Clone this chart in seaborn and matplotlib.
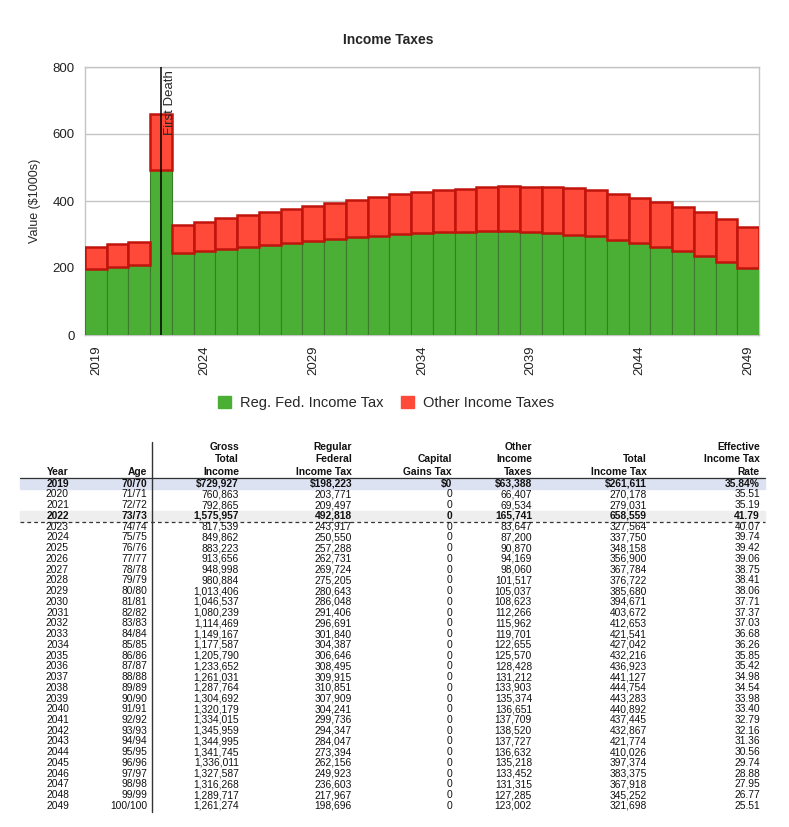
import numpy as np
import pandas as pd
import seaborn as sns
import matplotlib.pyplot as plt
from matplotlib.patches import Patch

years = [2019, 2020, 2021, 2022, 2023, 2024, 2025, 2026, 2027, 2028, 2029,
         2030, 2031, 2032, 2033, 2034, 2035, 2036, 2037, 2038, 2039, 2040,
         2041, 2042, 2043, 2044, 2045, 2046, 2047, 2048, 2049]
ages = ['70/70', '71/71', '72/72', '73/73', '74/74', '75/75', '76/76', '77/77',
        '78/78', '79/79', '80/80', '81/81', '82/82', '83/83', '84/84', '85/85',
        '86/86', '87/87', '88/88', '89/89', '90/90', '91/91', '92/92', '93/93',
        '94/94', '95/95', '96/96', '97/97', '98/98', '99/99', '100/100']
gross_income = [729927, 760863, 792865, 1575957, 817539, 849862, 883223, 913656,
                948998, 980884, 1013406, 1046537, 1080239, 1114469, 1149167,
                1177587, 1205790, 1233652, 1261031, 1287764, 1304692, 1320179,
                1334015, 1345959, 1344995, 1341745, 1336011, 1327587, 1316268,
                1289717, 1261274]
reg_fed_tax = [198223, 203771, 209497, 492818, 243917, 250550, 257288, 262731,
               269724, 275205, 280643, 286048, 291406, 296691, 301840, 304387,
               306646, 308495, 309915, 310851, 307909, 304241, 299736, 294347,
               284047, 273394, 262156, 249923, 236603, 217967, 198696]
cap_gains_tax = [0] * 31
other_taxes = [63388, 66407, 69534, 165741, 83647, 87200, 90870, 94169, 98060,
               101517, 105037, 108623, 112266, 115962, 119701, 122655, 125570,
               128428, 131212, 133903, 135374, 136651, 137709, 138520, 137727,
               136632, 135218, 133452, 131315, 127285, 123002]
total_tax = [261611, 270178, 279031, 658559, 327564, 337750, 348158, 356900,
             367784, 376722, 385680, 394671, 403672, 412653, 421541, 427042,
             432216, 436923, 441127, 444754, 443283, 440892, 437445, 432867,
             421774, 410026, 397374, 383375, 367918, 345252, 321698]
eff_rate = [35.84, 35.51, 35.19, 41.79, 40.07, 39.74, 39.42, 39.06, 38.75,
            38.41, 38.06, 37.71, 37.37, 37.03, 36.68, 36.26, 35.85, 35.42,
            34.98, 34.54, 33.98, 33.40, 32.79, 32.16, 31.36, 30.56, 29.74,
            28.88, 27.95, 26.77, 25.51]
year_ticks = [2019, 2024, 2029, 2034, 2039, 2044, 2049]
first_death_year = 2022

df = pd.DataFrame({'year': years, 'reg': np.array(reg_fed_tax) / 1000,
                   'other': np.array(other_taxes) / 1000})

GREEN = '#4aaf34'
RED = '#ff4a3a'
GRID = '#c4c4c4'
FONT = ['Liberation Sans', 'DejaVu Sans']

sns.set_style('white')
plt.rcParams['font.family'] = FONT

fig = plt.figure(figsize=(7.89, 8.27), dpi=100)
ax = fig.add_axes([85 / 789, 1 - 335 / 827, 674 / 789, 268 / 827])

sns.barplot(data=df, x='year', y='reg', color=GREEN, width=1.0, saturation=1,
            edgecolor='#3d7a2e', linewidth=0.8, ax=ax, zorder=3)
pos = np.arange(len(df))
ax.bar(pos, df['other'], bottom=df['reg'], width=1.0, color=RED,
       edgecolor='#c0140c', linewidth=1.8, zorder=3)

ax.set_xlim(-0.5, len(df) - 0.5)
ax.set_ylim(0, 800)
ax.set_yticks([0, 200, 400, 600, 800])
ax.yaxis.grid(True, color=GRID, linewidth=1)
ax.set_axisbelow(True)
tick_pos = [years.index(y) for y in year_ticks]
ax.set_xticks(tick_pos)
ax.set_xticklabels([str(y) for y in year_ticks], rotation=90)
for s in ax.spines.values():
    s.set_color(GRID)
    s.set_linewidth(1)
ax.tick_params(axis='both', length=4, color=GRID, labelsize=9.5,
               labelcolor='#222222')
ax.set_xlabel('')
ax.set_ylabel('Value ($1000s)', fontsize=9, labelpad=8)

fd = years.index(first_death_year)
ax.axvline(fd, color='black', linewidth=1.1, zorder=5)
ax.text(fd + 0.12, 790, 'First Death', rotation=90, ha='left', va='top',
        fontsize=9.5, zorder=6)

fig.text(388 / 789, 1 - 40 / 827, 'Income Taxes', ha='center', va='center',
         fontsize=10, fontweight='bold')

handles = [Patch(color=GREEN, label='Reg. Fed. Income Tax'),
           Patch(color=RED, label='Other Income Taxes')]
fig.legend(handles=handles, loc='center', bbox_to_anchor=(386 / 789, 1 - 403 / 827),
           ncol=2, frameon=False, fontsize=10.5, handlelength=0.9,
           handleheight=0.9, handletextpad=0.6, columnspacing=1.2)

# table drawn in pixel coordinates
tab = fig.add_axes([0, 0, 1, 1], zorder=-1)
tab.set_xlim(0, 789)
tab.set_ylim(827, 0)
tab.axis('off')

fs = 7.4
col_right = [69, 147, 239, 352, 452, 532, 647, 760]
headers = [['', '', 'Year'], ['', '', 'Age'], ['Gross', 'Total', 'Income'],
           ['Regular', 'Federal', 'Income Tax'], ['', 'Capital', 'Gains Tax'],
           ['Other', 'Income', 'Taxes'], ['', 'Total', 'Income Tax'],
           ['Effective', 'Income Tax', 'Rate']]
head_y = [447, 459.5, 472]
for x, lines in zip(col_right, headers):
    for y, t in zip(head_y, lines):
        if t:
            tab.text(x, y, t, ha='right', va='center', fontsize=fs,
                     fontweight='bold', color='#111111')

row0 = 483.7
pitch = 10.74
tab.axhspan(row0 + 5.4, row0 - 5.4, xmin=20 / 789, xmax=765 / 789,
            color='#dde2f2', zorder=0)
fd_row = row0 + fd * pitch
tab.axhspan(fd_row + 5.4, fd_row - 5.4, xmin=20 / 789, xmax=765 / 789,
            color='#eeeeee', zorder=0)
tab.plot([20, 765], [478, 478], color='#333333', linewidth=0.9)
tab.plot([20, 765], [fd_row + 5.8, fd_row + 5.8], color='#333333',
         linewidth=0.9, linestyle=(0, (3, 2.5)))
tab.plot([152, 152], [442, 812], color='#333333', linewidth=1)

for i in range(len(years)):
    y = row0 + i * pitch
    if i == 0:
        vals = [str(years[i]), ages[i], f'${gross_income[i]:,}',
                f'${reg_fed_tax[i]:,}', f'${cap_gains_tax[i]:,}',
                f'${other_taxes[i]:,}', f'${total_tax[i]:,}',
                f'{eff_rate[i]:.2f}%']
    else:
        vals = [str(years[i]), ages[i], f'{gross_income[i]:,}',
                f'{reg_fed_tax[i]:,}', f'{cap_gains_tax[i]:,}',
                f'{other_taxes[i]:,}', f'{total_tax[i]:,}',
                f'{eff_rate[i]:.2f}']
    bold = i in (0, fd)
    for x, t in zip(col_right, vals):
        tab.text(x, y, t, ha='right', va='center', fontsize=fs,
                 fontweight='bold' if bold else 'normal', color='#111111')

fig.savefig('out.png', dpi=100)
